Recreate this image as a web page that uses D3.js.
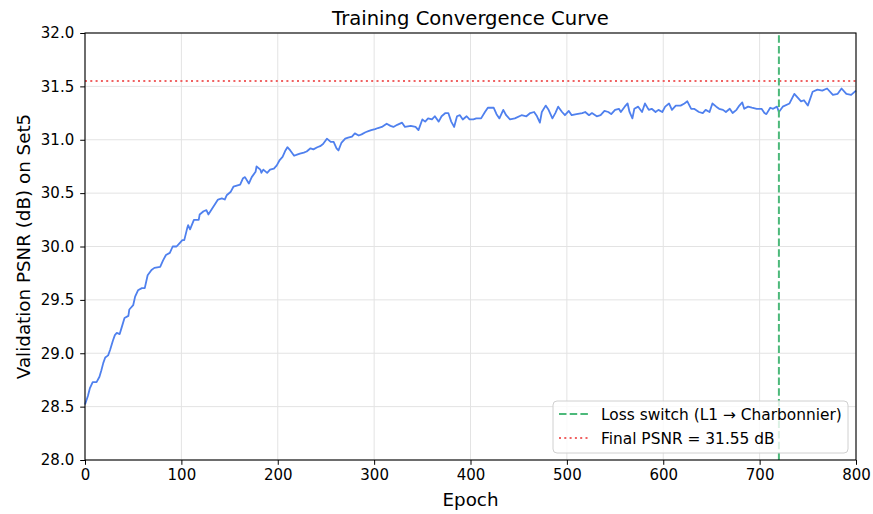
<!DOCTYPE html>
<html>
<head>
<meta charset="utf-8">
<script src="https://cdn.jsdelivr.net/npm/d3@7/dist/d3.min.js"></script>
<style>
  body { margin: 0; background: #fff; }
  svg { display: block; font-family: "DejaVu Sans", sans-serif; }
</style>
</head>
<body>
<svg id="chart" width="873" height="514"></svg>
<script>
const epochs = [0,3,5,8,12,15,17,19,21,24,26,29,31,33,36,38,41,45,46,50,52,55,59,62,65,69,72,78,81,84,88,91,95,98,101,103,106,107,109,113,118,119,123,126,128,133,138,142,145,147,151,154,161,164,166,170,173,177,178,182,183,185,189,192,196,199,202,205,208,210,213,217,220,223,227,230,234,237,241,244,247,251,255,258,261,263,266,270,273,277,280,284,287,291,294,297,301,304,308,313,317,320,324,329,332,338,343,346,350,353,356,360,363,367,370,374,377,380,383,386,389,392,396,399,403,406,411,415,418,424,427,430,434,437,441,446,453,458,462,466,469,472,474,478,481,485,488,491,495,498,502,505,510,516,519,523,526,531,535,539,543,546,550,554,556,560,563,565,568,570,574,578,581,585,588,592,595,599,602,606,609,613,618,622,625,629,632,637,641,644,648,651,655,658,662,665,669,672,676,679,682,684,688,692,697,702,705,707,711,714,718,720,724,731,736,740,743,746,750,755,760,765,770,776,781,785,790,795,800];
const psnr = [28.52,28.60,28.67,28.73,28.73,28.78,28.84,28.91,28.96,28.98,29.03,29.12,29.17,29.19,29.18,29.24,29.33,29.35,29.41,29.45,29.53,29.59,29.61,29.61,29.73,29.78,29.80,29.81,29.87,29.92,29.94,30.00,30.00,30.03,30.06,30.06,30.17,30.20,30.16,30.25,30.25,30.30,30.33,30.34,30.30,30.37,30.44,30.45,30.44,30.48,30.51,30.56,30.58,30.64,30.65,30.59,30.65,30.70,30.75,30.72,30.69,30.72,30.69,30.72,30.73,30.76,30.81,30.84,30.90,30.93,30.90,30.85,30.86,30.87,30.88,30.89,30.92,30.91,30.93,30.94,30.96,31.01,30.98,30.98,30.92,30.90,30.97,31.01,31.02,31.03,31.06,31.04,31.05,31.07,31.08,31.09,31.10,31.11,31.12,31.15,31.13,31.12,31.14,31.16,31.12,31.13,31.12,31.09,31.19,31.17,31.20,31.19,31.22,31.17,31.22,31.25,31.25,31.17,31.12,31.22,31.23,31.19,31.22,31.19,31.19,31.20,31.20,31.26,31.30,31.30,31.24,31.20,31.28,31.23,31.19,31.20,31.23,31.22,31.25,31.26,31.22,31.16,31.26,31.32,31.28,31.20,31.25,31.31,31.26,31.23,31.27,31.23,31.24,31.25,31.26,31.23,31.25,31.22,31.23,31.27,31.26,31.24,31.28,31.29,31.26,31.31,31.34,31.26,31.20,31.29,31.31,31.26,31.34,31.28,31.29,31.26,31.28,31.26,31.31,31.34,31.28,31.32,31.32,31.34,31.36,31.29,31.29,31.26,31.25,31.28,31.26,31.34,31.31,31.29,31.28,31.26,31.29,31.25,31.28,31.32,31.35,31.29,31.31,31.30,31.29,31.29,31.25,31.24,31.30,31.29,31.31,31.26,31.31,31.34,31.43,31.39,31.36,31.37,31.32,31.45,31.47,31.46,31.48,31.42,31.43,31.48,31.43,31.42,31.46];
const xTicks = [0,100,200,300,400,500,600,700,800];
const yTicks = [28.0,28.5,29.0,29.5,30.0,30.5,31.0,31.5,32.0];
const switchEpoch = [720];
const finalPsnr = [31.55];
const legendLabels = ["Loss switch (L1 \u2192 Charbonnier)", "Final PSNR = 31.55 dB"];

const svg = d3.select("#chart");
const m = {left: 85, right: 873 - 856, top: 33, bottom: 514 - 460};
const W = 873, H = 514;
const x = d3.scaleLinear().domain([0, 800]).range([m.left, W - m.right]);
const y = d3.scaleLinear().domain([28, 32]).range([H - m.bottom, m.top]);

const blue = "#4f80ee", green = "#4cb97a", red = "#f06262";

// grid
const g = svg.append("g");
g.selectAll(".vx").data(xTicks).enter().append("line")
  .attr("x1", d => x(d)).attr("x2", d => x(d))
  .attr("y1", y(28)).attr("y2", y(32))
  .attr("stroke", "#e3e3e3").attr("stroke-width", 1);
g.selectAll(".hy").data(yTicks).enter().append("line")
  .attr("x1", x(0)).attr("x2", x(800))
  .attr("y1", d => y(d)).attr("y2", d => y(d))
  .attr("stroke", "#e3e3e3").attr("stroke-width", 1);

// final psnr dotted
svg.selectAll(".fin").data(finalPsnr).enter().append("line")
  .attr("x1", x(0)).attr("x2", x(800))
  .attr("y1", d => y(d)).attr("y2", d => y(d))
  .attr("stroke", red).attr("stroke-width", 2).attr("stroke-dasharray", "2,3.3");

// curve
const pts = epochs.map((e, i) => [e, psnr[i]]);
svg.append("path").datum(pts)
  .attr("fill", "none").attr("stroke", blue).attr("stroke-width", 1.8)
  .attr("stroke-linejoin", "round")
  .attr("d", d3.line().x(d => x(d[0])).y(d => y(d[1])));

// switch line
svg.selectAll(".sw").data(switchEpoch).enter().append("line")
  .attr("x1", d => x(d)).attr("x2", d => x(d))
  .attr("y1", y(28)).attr("y2", y(32))
  .attr("stroke", green).attr("stroke-width", 2).attr("stroke-dasharray", "7.5,3.2");

// axes
const xAxis = d3.axisBottom(x).tickValues(xTicks).tickFormat(d3.format("d")).tickSize(4.8).tickPadding(5);
const yAxis = d3.axisLeft(y).tickValues(yTicks).tickFormat(d3.format(".1f")).tickSize(4.8).tickPadding(6);
const gx = svg.append("g").attr("transform", `translate(0,${y(28)})`).call(xAxis);
const gy = svg.append("g").attr("transform", `translate(${x(0)},0)`).call(yAxis);
[gx, gy].forEach(a => {
  a.selectAll("text").attr("font-size", 15).attr("fill", "#000").attr("font-family", "DejaVu Sans");
  a.selectAll("line").attr("stroke", "#000");
  a.select(".domain").remove();
});
// frame
svg.append("rect").attr("x", x(0)).attr("y", y(32))
  .attr("width", x(800) - x(0)).attr("height", y(28) - y(32))
  .attr("fill", "none").attr("stroke", "#000").attr("stroke-width", 1.1);

// labels
svg.append("text").attr("x", (x(0) + x(800)) / 2).attr("y", 25)
  .attr("text-anchor", "middle").attr("font-size", 19.6).text("Training Convergence Curve");
svg.append("text").attr("x", (x(0) + x(800)) / 2).attr("y", 506)
  .attr("text-anchor", "middle").attr("font-size", 18.3).text("Epoch");
svg.append("text").attr("transform", `translate(30,${(y(28) + y(32)) / 2}) rotate(-90)`)
  .attr("text-anchor", "middle").attr("font-size", 18.3).text("Validation PSNR (dB) on Set5");

// legend
const lg = svg.append("g");
lg.append("rect").attr("x", 553).attr("y", 401).attr("width", 295).attr("height", 52)
  .attr("rx", 4).attr("fill", "#fff").attr("fill-opacity", 0.8)
  .attr("stroke", "#d0d0d0").attr("stroke-width", 1);
const items = [
  {label: legendLabels[0], color: green, dash: "7.5,3.2"},
  {label: legendLabels[1], color: red, dash: "2,3.3"}
];
items.forEach((it, i) => {
  const yy = 414 + i * 24;
  lg.append("line").attr("x1", 559).attr("x2", 589).attr("y1", yy).attr("y2", yy)
    .attr("stroke", it.color).attr("stroke-width", 2).attr("stroke-dasharray", it.dash);
  lg.append("text").attr("x", 601).attr("y", yy + 5.5).attr("font-size", 15.4).text(it.label);
});
</script>
</body>
</html>
